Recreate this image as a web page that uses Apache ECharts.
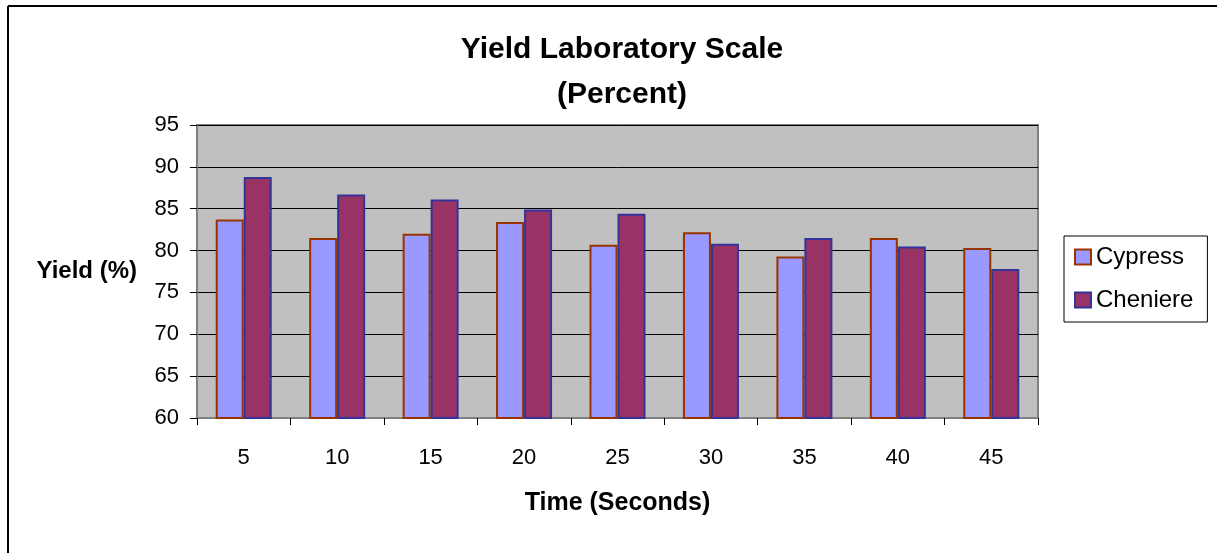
<!DOCTYPE html>
<html>
<head>
<meta charset="utf-8">
<script src="https://cdn.jsdelivr.net/npm/echarts@6/dist/echarts.min.js"></script>
<style>
html,body{margin:0;padding:0;background:#fff;}
#chart{width:1217px;height:553px;}
</style>
</head>
<body>
<div id="chart"></div>
<script>
const categories = ['5','10','15','20','25','30','35','40','45'];
const cypress = [83.7, 81.5, 82.0, 83.4, 80.7, 82.2, 79.3, 81.5, 80.3];
const cheniere = [88.8, 86.7, 86.1, 84.9, 84.4, 80.8, 81.5, 80.5, 77.8];
const titleText = 'Yield Laboratory Scale\n(Percent)';
const yName = 'Yield (%)';
const xName = 'Time (Seconds)';

const FONT = 'Liberation Sans, Arial, sans-serif';
const chart = echarts.init(document.getElementById('chart'), null, {renderer:'canvas'});
chart.setOption({
  animation: false,
  backgroundColor: '#ffffff',
  title: {
    text: titleText,
    left: 617, textAlign: 'center',
    top: 22,
    textStyle: {fontFamily: FONT, fontSize: 30, fontWeight: 'bold', color: '#000', lineHeight: 45}
  },
  legend: {
    orient: 'vertical',
    left: 1064, top: 236,
    padding: [9, 14, 10, 10],
    borderColor: '#000', borderWidth: 1,
    itemWidth: 16, itemHeight: 15, itemGap: 19,
    icon: 'rect',
    textStyle: {fontFamily: FONT, fontSize: 24, color: '#000', lineHeight: 24},
    data: [
      {name: 'Cypress', itemStyle: {color: '#9999FF', borderColor: '#993300', borderWidth: 2}},
      {name: 'Cheniere', itemStyle: {color: '#993366', borderColor: '#333399', borderWidth: 2}}
    ]
  },
  grid: {
    left: 197, right: 179, top: 125, bottom: 135,
    show: true, backgroundColor: '#C0C0C0', borderColor: '#808080', borderWidth: 2
  },
  xAxis: {
    type: 'category',
    data: categories,
    name: xName, nameLocation: 'middle', nameGap: 73,
    nameTextStyle: {fontFamily: FONT, fontSize: 25, fontWeight: 'bold', color: '#000'},
    axisLine: {lineStyle: {color: '#808080', width: 2}},
    axisTick: {show: true, alignWithLabel: false, length: 7, lineStyle: {color: '#000'}},
    axisLabel: {fontFamily: FONT, fontSize: 22, color: '#000', margin: 29},
    splitLine: {show: false}
  },
  yAxis: {
    type: 'value', min: 60, max: 95, interval: 5,
    name: yName, nameLocation: 'middle', nameRotate: 0, nameGap: 60,
    nameTextStyle: {fontFamily: FONT, fontSize: 24, fontWeight: 'bold', color: '#000', align: 'right'},
    axisLine: {show: true, lineStyle: {color: '#808080', width: 2}},
    axisTick: {show: true, length: 7, lineStyle: {color: '#000'}},
    axisLabel: {fontFamily: FONT, fontSize: 22, color: '#000', margin: 18},
    splitLine: {show: true, lineStyle: {color: '#000', width: 1}}
  },
  series: [
    {name: 'Cypress', type: 'bar', data: cypress, barWidth: 28, barGap: '0%',
     itemStyle: {color: '#9999FF', borderColor: '#993300', borderWidth: 2}},
    {name: 'Cheniere', type: 'bar', data: cheniere, barWidth: 28, barGap: '0%',
     itemStyle: {color: '#993366', borderColor: '#333399', borderWidth: 2}}
  ],
  graphic: [
    {type: 'line', shape: {x1: 8, y1: 6, x2: 1217, y2: 6}, style: {stroke: '#000', lineWidth: 2}},
    {type: 'line', shape: {x1: 8, y1: 6, x2: 8, y2: 553}, style: {stroke: '#000', lineWidth: 2}}
  ]
});
</script>
</body>
</html>
